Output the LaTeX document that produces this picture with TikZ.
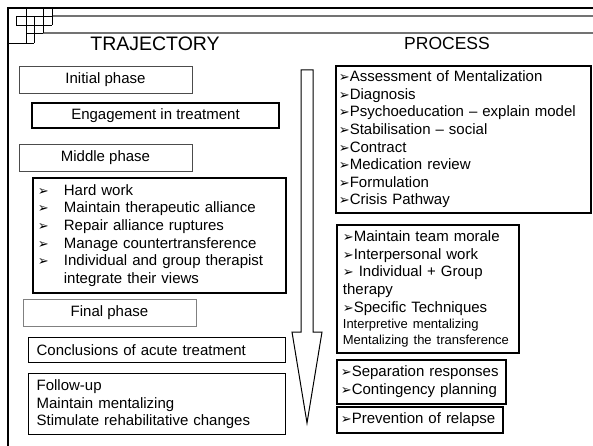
\documentclass[tikz,border=0pt]{standalone}
\usepackage{fontspec}
\setmainfont{Liberation Sans}
\newfontfamily\dingfont{DejaVu Sans}
\usetikzlibrary{positioning}
\newcommand{\pb}{{\dingfont\fontsize{13}{13}\selectfont\char"27A2}}
\newcommand{\bodysize}{\fontsize{15}{17.6}\selectfont}
\newcommand{\smallsize}{\fontsize{13}{16}\selectfont}

\begin{document}
\begin{tikzpicture}[x=1pt,y=-1pt,
    phase/.style={draw=black!70, line width=0.8pt, minimum width=173pt, minimum height=27pt, inner sep=0pt, font=\bodysize},
    stage/.style={draw, line width=1.8pt, minimum height=25pt, inner sep=0pt, font=\bodysize},
    listbox/.style={draw, line width=1.8pt, anchor=north west, align=left, inner xsep=6pt, inner ysep=0pt, font=\bodysize},
    title/.style={font=\fontsize{19.5}{22}\selectfont}
  ]
  \useasboundingbox (0,0) rectangle (593,446);

  % frame and corner squares
  \draw[line width=2.5pt] (8,446) -- (8,8) -- (593,8);
  \draw[black!55, line width=1.2pt] (52,16) -- (593,16);
  \draw[black!55, line width=1.2pt] (43,33) -- (593,33);
  \draw[line width=0.8pt] (26,8) -- (26,43) (34,16) -- (34,43) (43,8) -- (43,33) (52,8) -- (52,25) (16,16) -- (16,25)
    (16,16) -- (52,16) (16,25) -- (52,25) (26,33) -- (43,33) (8,43) -- (34,43);

  % headings
  \node[title] (traj) at (155,44) {TRAJECTORY};
  \node[title, font=\fontsize{17.5}{20}\selectfont] (proc) at (447,43) {PROCESS};

  % trajectory
  \node[phase] (initial) at (105.5,80) {Initial phase};
  \node[stage, minimum width=247pt] (engage) at (155.5,115.5) {Engagement in treatment};
  \node[phase] (middle) at (105.5,158) {Middle phase};
  \node[listbox, text width=243pt, minimum height=115pt, inner xsep=5pt] (midlist) at (32,177) {%
    \makebox[26pt][l]{\pb}Hard work\\
    \makebox[26pt][l]{\pb}Maintain therapeutic alliance\\
    \makebox[26pt][l]{\pb}Repair alliance ruptures\\
    \makebox[26pt][l]{\pb}Manage countertransference\\
    \makebox[26pt][l]{\pb}Individual and group therapist\\
    \hspace*{26pt}integrate their views};
  \node[phase, draw=black!50] (final) at (109.5,313) {Final phase};
  \node[listbox, line width=1.3pt, text width=241pt, minimum height=25pt, inner xsep=8pt] (concl) at (28,337) {Conclusions of acute treatment};
  \node[listbox, line width=1.3pt, text width=241pt, minimum height=61pt, inner xsep=8pt] (followup) at (28,373) {%
    Follow-up\\
    Maintain mentalizing\\
    Stimulate rehabilitative changes};

  % arrow
  \draw[line width=1pt, line join=miter] (301,70) -- (313,70) -- (313,332) -- (322,332) -- (307,423) -- (292,332) -- (301,332) -- cycle;

  % process
  \node[listbox, text width=249pt, minimum height=147pt, inner xsep=3pt] (assess) at (335,65) {%
    \pb Assessment of Mentalization\\
    \pb Diagnosis\\
    \pb Psychoeducation -- explain model\\
    \pb Stabilisation -- social\\
    \pb Contract\\
    \pb Medication review\\
    \pb Formulation\\
    \pb Crisis Pathway};
  \node[listbox, text width=170pt, minimum height=128pt] (team) at (336,224) {%
    \pb Maintain team morale\\
    \pb Interpersonal work\\
    \pb\ Individual + Group\\
    therapy\\
    \pb Specific Techniques\\[-1.6pt]
    {\smallsize Interpretive mentalizing}\\[-1.6pt]
    {\smallsize Mentalizing the transference}};
  \node[listbox, text width=161pt, minimum height=44pt, inner xsep=4pt] (separ) at (336,359) {%
    \pb Separation responses\\
    \pb Contingency planning};
  \node[listbox, text width=158pt, minimum height=26pt, inner xsep=4pt] (relapse) at (336,406) {\pb Prevention of relapse};
\end{tikzpicture}
\end{document}
